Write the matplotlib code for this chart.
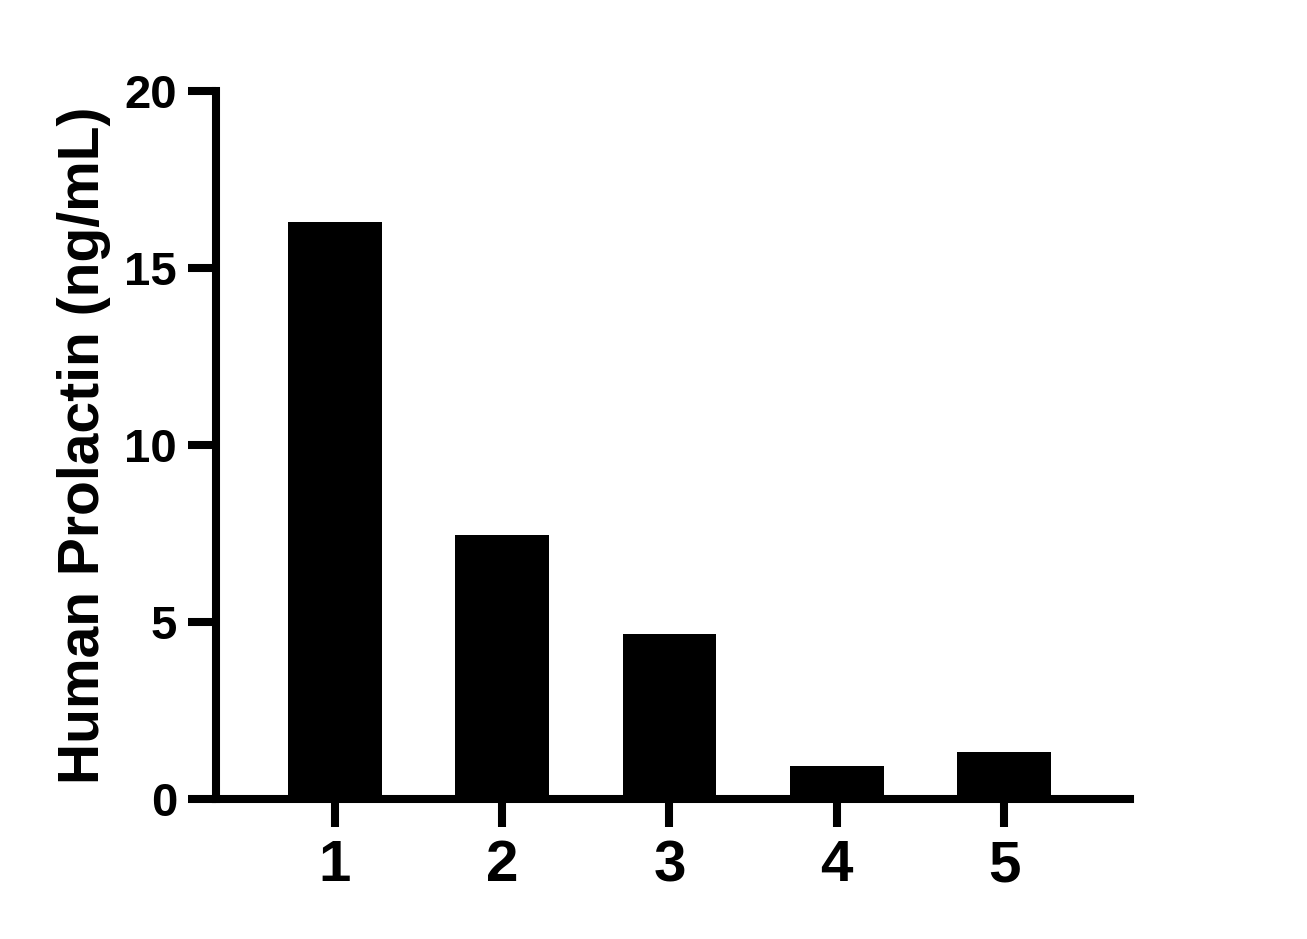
import numpy as np
import matplotlib
matplotlib.use("Agg")
import matplotlib.pyplot as plt

plt.rcParams['font.family'] = ['Liberation Sans', 'DejaVu Sans']
plt.rcParams['font.weight'] = 'bold'

categories = ['1', '2', '3', '4', '5']
values = [16.3, 7.45, 4.65, 0.93, 1.33]
y_ticks = [0, 5, 10, 15, 20]

fig = plt.figure(figsize=(13.07, 9.39), dpi=100)
ax = fig.add_axes([0.1653, 0.1491, 0.699, 0.754])

x = np.arange(1, len(categories) + 1)
ax.bar(x, values, width=0.56, color='black')

ax.set_xlim(0.29, 5.75)
ax.set_ylim(0, 20)
ax.set_xticks(x)
ax.set_xticklabels(categories)
ax.set_yticks(y_ticks)

for side in ['top', 'right']:
    ax.spines[side].set_visible(False)
for side in ['left', 'bottom']:
    ax.spines[side].set_linewidth(5.8)
    ax.spines[side].set_capstyle('projecting')

ax.tick_params(axis='both', width=5.8, length=20)
ax.tick_params(axis='x', pad=9, labelsize=42)
ax.tick_params(axis='y', pad=8, labelsize=34)
ax.set_ylabel('Human Prolactin (ng/mL)', fontsize=41, fontweight='bold', labelpad=10)

fig.savefig('out.png', dpi=100)
